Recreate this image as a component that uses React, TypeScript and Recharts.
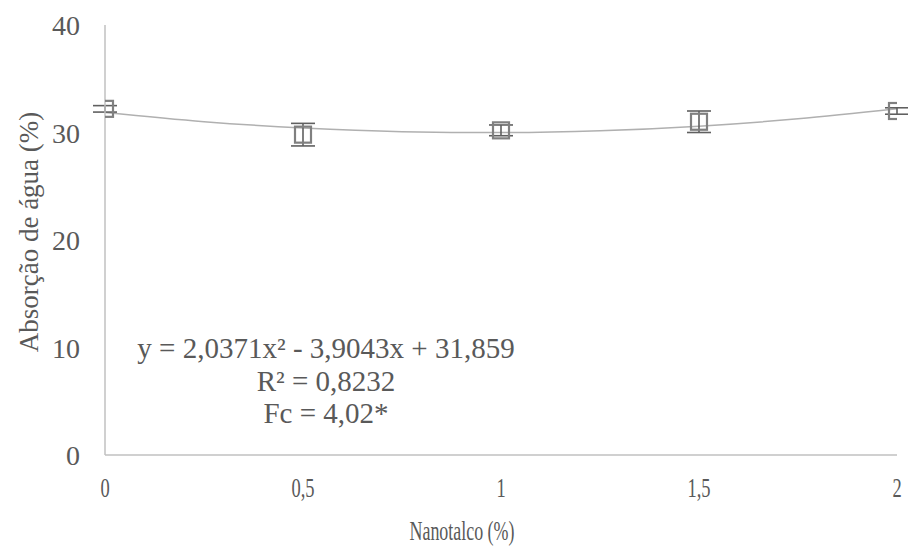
import React from 'react';
import { ComposedChart, Scatter, Line, XAxis, YAxis, ErrorBar, Customized } from 'recharts';

const nanotalco = [0, 0.5, 1, 1.5, 2];
const absorcao = [32.2, 29.8, 30.2, 31.0, 32.0];
const desvio = [0.3, 1.05, 0.5, 1.0, 0.3];

const trendX = [0, 0.25, 0.5, 0.75, 1, 1.25, 1.5, 1.75, 2];
const trendY = [31.86, 31.01, 30.42, 30.08, 29.99, 30.16, 30.59, 31.27, 32.2];

const xTicks = [0, 0.5, 1, 1.5, 2];
const yTicks = [0, 10, 20, 30, 40];

const xTitle = 'Nanotalco (%)';
const yTitle = 'Absorção de água (%)';
const equationLines = ['y = 2,0371x² - 3,9043x + 31,859', 'R² = 0,8232', 'Fc = 4,02*'];

const points = nanotalco.map((x, i) => ({ x, y: absorcao[i], err: desvio[i] }));
const trend = trendX.map((x, i) => ({ x, t: trendY[i] }));

const FONT = "'Liberation Serif', 'Times New Roman', serif";
const TEXT = '#595959';
const txtStyle = { fontFamily: FONT };

const SquareShape = (props: any) => {
  const { cx, cy } = props;
  if (cx == null || cy == null) return null;
  return <rect x={cx - 8} y={cy - 8} width={16} height={16} fill="none" stroke="#808080" strokeWidth={2.2} />;
};

const XTick = (props: any) => {
  const { x, y, payload } = props;
  const label = String(payload.value).replace('.', ',');
  return (
    <g transform={`translate(${x},${y})`}>
      <text transform="scale(0.66,1)" textAnchor="middle" fontSize={28} fill={TEXT} style={txtStyle}>
        {label}
      </text>
    </g>
  );
};

const YTick = (props: any) => {
  const { x, y, payload } = props;
  return (
    <text x={x} y={y + 10} textAnchor="end" fontSize={28} fill={TEXT} style={txtStyle}>
      {String(payload.value)}
    </text>
  );
};

const XTitle = () => (
  <g transform="translate(462,540)">
    <text transform="scale(0.64,1)" textAnchor="middle" fontSize={28} fill={TEXT} style={txtStyle}>
      {xTitle}
    </text>
  </g>
);

const YTitle = () => (
  <text
    x={38}
    y={232}
    transform="rotate(-90, 38, 232)"
    textAnchor="middle"
    fontSize={27}
    fill={TEXT}
    style={txtStyle}
  >
    {yTitle}
  </text>
);

const Equation = () => (
  <g>
    {equationLines.map((l, i) => (
      <text key={i} x={326} y={[358, 391, 423][i]} textAnchor="middle" fontSize={29} fill={TEXT} style={txtStyle}>
        {l}
      </text>
    ))}
  </g>
);

export default function App() {
  return (
    <div style={{ position: 'absolute', left: 0, top: 0, background: '#fff' }}>
      <ComposedChart width={908} height={548} margin={{ top: 25, right: 11, bottom: 30, left: 0 }}>
        <XAxis
          type="number"
          dataKey="x"
          domain={[0, 2]}
          ticks={xTicks}
          axisLine={{ stroke: '#c0c0c0', strokeWidth: 1.5 }}
          tickLine={false}
          tickSize={0}
          tickMargin={42}
          tick={<XTick />}
          height={63}
          allowDataOverflow
          label={<XTitle />}
        />
        <YAxis
          type="number"
          domain={[0, 40]}
          ticks={yTicks}
          axisLine={{ stroke: '#c0c0c0', strokeWidth: 1.5 }}
          tickLine={false}
          tickSize={0}
          tickMargin={25}
          tick={<YTick />}
          width={105}
          label={<YTitle />}
        />
        <Line
          data={trend}
          dataKey="t"
          type="monotone"
          stroke="#b0b0b0"
          strokeWidth={1.5}
          dot={false}
          activeDot={false}
          isAnimationActive={false}
        />
        <Scatter data={points} dataKey="y" shape={SquareShape} isAnimationActive={false}>
          <ErrorBar dataKey="err" direction="y" width={12} stroke="#606060" strokeWidth={1.6} />
        </Scatter>
        <Customized component={Equation} />
      </ComposedChart>
    </div>
  );
}
